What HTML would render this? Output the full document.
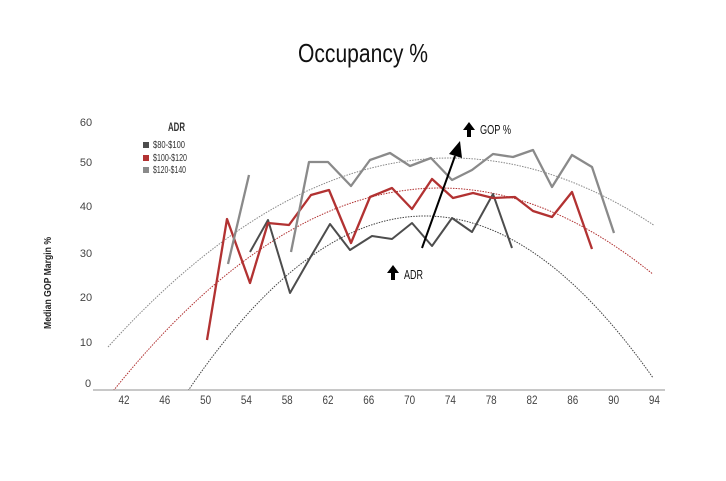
<!DOCTYPE html>
<html><head><meta charset="utf-8"><style>
body{margin:0;background:#fff;}
svg text{font-family:"Liberation Sans Narrow","Liberation Sans",sans-serif;}
</style></head><body>
<svg width="726" height="476" viewBox="0 0 726 476" xmlns="http://www.w3.org/2000/svg">
<text x="298" y="62" textLength="130" lengthAdjust="spacingAndGlyphs" font-size="26" fill="#111">Occupancy %</text>
<text transform="translate(51,283) rotate(-90)" text-anchor="middle" font-size="10" font-weight="bold" fill="#222" textLength="92" lengthAdjust="spacingAndGlyphs">Median GOP Margin %</text>
<g font-size="11" fill="#444" text-anchor="middle">
<text x="86" y="126">60</text><text x="86" y="166">50</text><text x="86" y="210">40</text><text x="86" y="257">30</text><text x="86" y="301">20</text><text x="86" y="346">10</text><text x="88" y="387">0</text>
</g>
<g font-size="12" fill="#444" text-anchor="middle" id="xl"></g>
<line x1="93" y1="390" x2="665" y2="390" stroke="#c8c8c8" stroke-width="2"/>
<defs><clipPath id="c"><rect x="0" y="0" width="726" height="390"/></clipPath></defs>
<g clip-path="url(#c)" fill="none" stroke-dasharray="1.5 1.2" stroke-width="1">
<path id="tg" stroke="#888"/><path id="tr" stroke="#b03030"/><path id="td" stroke="#444"/>
</g>
<g fill="none" stroke-width="2" stroke-linejoin="round">
<polyline stroke="#4d4d4d" points="250,252 268,220 290,293 310,258 330,224 350,250 372,236 392,239 412,223 432,246 452,218 472,232 493,194 512,248"/>
<polyline stroke="#b23232" stroke-width="2.3" points="207,340 227,219 250,283 268,223 289,225 311,195 329,190 351,243 370,197 392,188 412,209 432,179 453,198 473,193 493,198 515,197 533,211 552,217 572,192 592,249"/>
<polyline stroke="#8a8a8a" stroke-width="2.3" points="228,264 249,175"/>
<polyline stroke="#8a8a8a" stroke-width="2.3" points="291,252 309,162 328,162 351,186 370,160 390,153 410,166 431,158 452,180 472,170 493,154 513,157 533,150 552,187 572,155 592,167 614,233"/>
</g>
<line x1="422" y1="248" x2="455" y2="156" stroke="#000" stroke-width="2"/>
<polygon points="460,141 462,158 449,154" fill="#000"/>
<polygon points="469,122 475,130 471,130 471,137 467,137 467,130 463,130" fill="#000"/>
<text x="480" y="134" font-size="13" fill="#111" textLength="31" lengthAdjust="spacingAndGlyphs">GOP %</text>
<polygon points="393,265 399,273 395,273 395,280 391,280 391,273 387,273" fill="#000"/>
<text x="404" y="279" font-size="13" fill="#111" textLength="19" lengthAdjust="spacingAndGlyphs">ADR</text>
<text x="168" y="131" font-size="12" font-weight="bold" fill="#333" textLength="17" lengthAdjust="spacingAndGlyphs">ADR</text>
<rect x="143" y="142" width="6" height="6" fill="#4d4d4d"/><text x="153" y="148" font-size="10" fill="#333" textLength="32" lengthAdjust="spacingAndGlyphs">$80-$100</text>
<rect x="143" y="155" width="6" height="6" fill="#b23232"/><text x="153" y="161" font-size="10" fill="#333" textLength="34" lengthAdjust="spacingAndGlyphs">$100-$120</text>
<rect x="143" y="167" width="6" height="6" fill="#8a8a8a"/><text x="153" y="173" font-size="10" fill="#333" textLength="33" lengthAdjust="spacingAndGlyphs">$120-$140</text>
</svg>
<script>
function curve(id,h,k,a,x0,x1){var d="";for(var x=x0;x<=x1;x+=3){var y=k+a*(x-h)*(x-h);d+=(d?"L":"M")+x+","+y.toFixed(1);}document.getElementById(id).setAttribute("d",d);}
curve("tg",450,158,0.001616,108,655);
curve("tr",440,188,0.0019,110,655);
curve("td",425,216,0.003113,185,655);
var g=document.getElementById("xl"),s="";
for(var i=0;i<14;i++){var v=42+4*i;var x=124+i*40.8;s+='<text x="'+x.toFixed(1)+'" y="404" textLength="11" lengthAdjust="spacingAndGlyphs">'+v+'</text>';}
g.innerHTML=s;
</script>
</body></html>
